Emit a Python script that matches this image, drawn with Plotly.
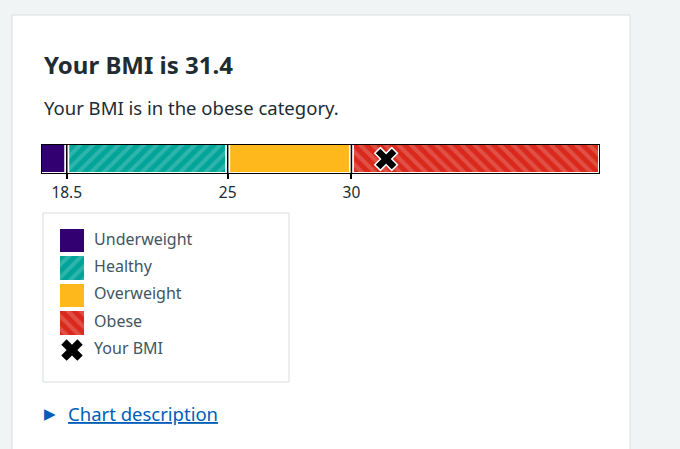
import plotly.graph_objects as go

# ---------------------------
# Data
# ---------------------------
categories = ["Underweight", "Healthy", "Overweight", "Obese"]
bounds = [17.5, 18.5, 25, 30, 40]
tick_vals = [18.5, 25, 30]
tick_text = ["18.5", "25", "30"]
your_bmi = 31.4
bmi_category = "obese"

colors = ["#330072", "#00a499", "#ffb81c", "#da291c"]
patterns = ["", "/", "", "\\"]

starts = bounds[:-1]
widths = [b - a for a, b in zip(bounds[:-1], bounds[1:])]

W, H = 680, 449
FONT = "Noto Sans"


def px(x):
    return x / W


def py(y):
    return 1 - y / H


fig = go.Figure()

# ---------------------------
# Main BMI bar
# ---------------------------
fig.add_trace(go.Bar(
    x=widths, base=starts, y=[0] * len(widths), orientation="h", width=1,
    marker=dict(
        color=colors,
        line=dict(color="white", width=1),
        pattern=dict(shape=patterns, bgcolor=colors, fgcolor="white",
                     fgopacity=0.18, size=9, solidity=0.45),
    ),
    xaxis="x", yaxis="y", hoverinfo="skip",
))

# separators at the category boundaries
sep_x, sep_y = [], []
for v in tick_vals:
    sep_x += [v, v, None]
    sep_y += [-0.5, 0.5, None]
fig.add_trace(go.Scatter(x=sep_x, y=sep_y, mode="lines",
                         line=dict(color="white", width=5),
                         xaxis="x", yaxis="y", hoverinfo="skip"))
fig.add_trace(go.Scatter(x=sep_x, y=sep_y, mode="lines",
                         line=dict(color="black", width=1.5),
                         xaxis="x", yaxis="y", hoverinfo="skip"))

# your BMI marker
fig.add_trace(go.Scatter(
    x=[your_bmi], y=[0], mode="markers",
    marker=dict(symbol="x", size=20, color="black",
                line=dict(color="white", width=1.5)),
    xaxis="x", yaxis="y", hoverinfo="skip",
))

# ---------------------------
# Custom legend
# ---------------------------
leg_y = list(range(len(categories) + 1))
fig.add_trace(go.Bar(
    x=[1] * len(categories), base=[0] * len(categories), y=leg_y[:-1],
    orientation="h", width=0.86,
    marker=dict(
        color=colors, line=dict(width=0),
        pattern=dict(shape=patterns, bgcolor=colors, fgcolor="white",
                     fgopacity=0.18, size=9, solidity=0.45),
    ),
    xaxis="x2", yaxis="y2", hoverinfo="skip",
))
fig.add_trace(go.Scatter(
    x=[0.5], y=[leg_y[-1]], mode="markers",
    marker=dict(symbol="x", size=19, color="black", line=dict(width=0)),
    xaxis="x2", yaxis="y2", hoverinfo="skip",
))
fig.add_trace(go.Scatter(
    x=[1.42] * len(leg_y), y=leg_y, mode="text",
    text=categories + ["Your BMI"], textposition="middle right",
    textfont=dict(family=FONT, size=16, color="#425563"),
    cliponaxis=False, xaxis="x2", yaxis="y2", hoverinfo="skip",
))

# ---------------------------
# Layout
# ---------------------------
fig.update_layout(
    width=W, height=H,
    margin=dict(l=0, r=0, t=0, b=0),
    paper_bgcolor="#f0f4f5", plot_bgcolor="rgba(0,0,0,0)",
    showlegend=False, hovermode=False, bargap=0,
    font=dict(family=FONT, color="#212b32"),
    xaxis=dict(domain=[px(42), px(599)], range=[bounds[0], bounds[-1]],
               tickvals=tick_vals, ticktext=tick_text,
               ticks="outside", ticklen=5, tickwidth=1.5, tickcolor="black",
               tickfont=dict(size=15.5, color="#212b32"),
               showline=True, linecolor="black", linewidth=1, mirror=True,
               showgrid=False, zeroline=False, fixedrange=True),
    yaxis=dict(domain=[py(173), py(145)], range=[-0.5, 0.5],
               showline=True, linecolor="black", linewidth=1, mirror=True,
               showticklabels=False, showgrid=False, zeroline=False,
               fixedrange=True),
    xaxis2=dict(domain=[px(60), px(290)], range=[0, 230 / 24], anchor="y2",
                visible=False, fixedrange=True),
    yaxis2=dict(domain=[py(363.7), py(226.8)], range=[4.5, -0.5],
                anchor="x2", visible=False, fixedrange=True),
    shapes=[
        # white card
        dict(type="rect", xref="paper", yref="paper", layer="below",
             x0=px(12), x1=px(630), y0=-0.05, y1=py(15),
             fillcolor="white", line=dict(color="#d8dde0", width=1)),
        # legend box
        dict(type="rect", xref="paper", yref="paper", layer="below",
             x0=px(43), x1=px(289), y0=py(382), y1=py(213),
             fillcolor="white", line=dict(color="#d8dde0", width=1)),
    ],
    annotations=[
        dict(text=f"<b>Your BMI is {your_bmi}</b>", xref="paper", yref="paper",
             x=px(42), y=py(64), xanchor="left", yanchor="middle",
             showarrow=False, font=dict(size=24, color="#212b32")),
        dict(text=f"Your BMI is in the {bmi_category} category.",
             xref="paper", yref="paper",
             x=px(42), y=py(107), xanchor="left", yanchor="middle",
             showarrow=False, font=dict(size=18.5, color="#212b32")),
        dict(text="▶", xref="paper", yref="paper",
             x=px(42), y=py(413), xanchor="left", yanchor="middle",
             showarrow=False, font=dict(size=15, color="#005eb8")),
        dict(text="<u>Chart description</u>", xref="paper", yref="paper",
             x=px(66), y=py(413), xanchor="left", yanchor="middle",
             showarrow=False, font=dict(size=18.5, color="#005eb8")),
    ],
)

fig.write_html("out.html", config={"displayModeBar": False},
               post_script="document.body.style.margin='0';"
                           "document.body.style.background='#f0f4f5';")
